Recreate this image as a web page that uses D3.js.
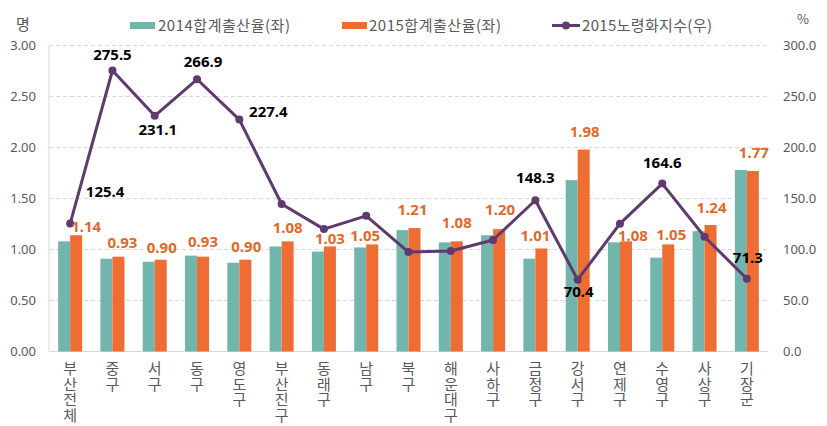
<!DOCTYPE html>
<html><head><meta charset="utf-8">
<script src="https://cdn.jsdelivr.net/npm/d3@7"></script>
<style>
html,body{margin:0;padding:0;background:#fff;}
svg{display:block;font-family:"Noto Sans CJK KR","Noto Sans",sans-serif;}
.vlab{writing-mode:vertical-rl;text-orientation:upright;}
</style></head>
<body><svg id="c" width="827" height="426"></svg>
<script>
const categories = ["부산전체","중구","서구","동구","영도구","부산진구","동래구","남구","북구","해운대구","사하구","금정구","강서구","연제구","수영구","사상구","기장군"];
const tfr2014 = [1.08,0.91,0.88,0.94,0.87,1.03,0.98,1.02,1.19,1.07,1.14,0.91,1.68,1.07,0.92,1.18,1.78];
const tfr2015 = [1.14,0.93,0.90,0.93,0.90,1.08,1.03,1.05,1.21,1.08,1.20,1.01,1.98,1.08,1.05,1.24,1.77];
const aging2015 = [125.4,275.5,231.1,266.9,227.4,144.6,120.0,133.0,97.5,98.5,109.3,148.3,70.4,125.3,164.6,112.5,71.3];
const agingLabelShown = [true,true,true,true,true,false,false,false,false,false,false,true,true,false,true,false,true];
const leftTicks = [0,0.5,1,1.5,2,2.5,3];
const rightTicks = [0,50,100,150,200,250,300];
const seriesNames = ["2014합계출산율(좌)","2015합계출산율(좌)","2015노령화지수(우)"];

const teal = "#72b5ac", orange = "#ef6d33", purple = "#5e3a6e", labelOrange = "#e0692b", gray = "#595959";
const svg = d3.select("#c");
const L = 49, R = 768, T = 45.5, B = 351.5;

const x = d3.scaleBand().domain(categories).range([L, R]).paddingInner(0).paddingOuter(0);
const yL = d3.scaleLinear().domain([0,3]).range([B, T]);
const yR = d3.scaleLinear().domain([0,300]).range([B, T]);
const bw = 12;

// grid
svg.append("g").selectAll("line").data(leftTicks.filter(d=>d>0)).join("line")
  .attr("x1", L).attr("x2", R).attr("y1", d=>yL(d)).attr("y2", d=>yL(d))
  .attr("stroke", "#d9d9d9").attr("stroke-width", 1).attr("stroke-dasharray", "4,3");
svg.append("line").attr("x1", L).attr("x2", L).attr("y1", T).attr("y2", B).attr("stroke", "#d9d9d9");
svg.append("line").attr("x1", L).attr("x2", R).attr("y1", B).attr("y2", B).attr("stroke", "#d9d9d9");

// left axis
const gl = svg.append("g").attr("transform", `translate(${L},0)`)
  .call(d3.axisLeft(yL).tickValues(leftTicks).tickFormat(d3.format(".2f")).tickSize(0).tickPadding(13));
gl.select(".domain").remove();
gl.selectAll("text").attr("fill", gray).attr("font-size", 13).attr("font-family", "'Noto Sans','Noto Sans CJK KR',sans-serif");
// right axis
const gr = svg.append("g").attr("transform", `translate(${R},0)`)
  .call(d3.axisRight(yR).tickValues(rightTicks).tickFormat(d3.format(".1f")).tickSize(0).tickPadding(15));
gr.select(".domain").remove();
gr.selectAll("text").attr("fill", gray).attr("font-size", 13).attr("font-family", "'Noto Sans','Noto Sans CJK KR',sans-serif");

svg.append("text").attr("x", 23).attr("y", 30).attr("text-anchor","middle").attr("fill", gray).attr("font-size", 15).text("명");
svg.append("text").attr("x", 803).attr("y", 24).attr("text-anchor","middle").attr("fill", gray).attr("font-size", 13).text("%");

// bars
const cx = d => x(d) + x.bandwidth()/2;
svg.append("g").selectAll("rect").data(categories).join("rect")
  .attr("x", d=>cx(d)-bw).attr("width", bw)
  .attr("y", (d,i)=>yL(tfr2014[i])).attr("height", (d,i)=>B-yL(tfr2014[i])).attr("fill", teal);
svg.append("g").selectAll("rect").data(categories).join("rect")
  .attr("x", d=>cx(d)).attr("width", bw)
  .attr("y", (d,i)=>yL(tfr2015[i])).attr("height", (d,i)=>B-yL(tfr2015[i])).attr("fill", orange);

// line
const line = d3.line().x((d,i)=>cx(categories[i])).y(d=>yR(d));
svg.append("path").datum(aging2015).attr("d", line).attr("fill","none").attr("stroke", purple).attr("stroke-width", 3).attr("stroke-linejoin","round");
svg.append("g").selectAll("circle").data(aging2015).join("circle")
  .attr("cx", (d,i)=>cx(categories[i])).attr("cy", d=>yR(d)).attr("r", 4).attr("fill", purple);

// orange labels (offsets relative to orange bar center / top)
const orangeAdj = {0:[10,-3],1:[4,-9],2:[1,-7],3:[0,-10],4:[1,-8],5:[0,-8],6:[0,-2],7:[-7,-3],8:[-2,-13],9:[0,-13],10:[1,-14],11:[-6,-7],12:[1,-13],13:[7,0],14:[3,-4],15:[1,-12],16:[1,-13]};
svg.append("g").selectAll("text").data(tfr2015).join("text")
  .attr("x", (d,i)=>cx(categories[i]) + bw/2 + orangeAdj[i][0])
  .attr("y", (d,i)=>yL(d) + orangeAdj[i][1])
  .attr("text-anchor","middle").attr("font-size", 15).attr("font-weight", "bold")
  .attr("font-family", "'Noto Sans','Noto Sans CJK KR',sans-serif")
  .attr("fill", labelOrange).text(d=>d3.format(".2f")(d));

// aging labels
const agingAdj = {0:[35,-27],1:[0,-10],2:[3,19],3:[6,-12],4:[29,-3],11:[0,-17],12:[1,17],14:[0,-16],16:[1,-16]};
svg.append("g").selectAll("text").data(aging2015.map((v,i)=>({v,i})).filter(d=>agingLabelShown[d.i])).join("text")
  .attr("x", d=>cx(categories[d.i]) + agingAdj[d.i][0])
  .attr("y", d=>yR(d.v) + agingAdj[d.i][1])
  .attr("text-anchor","middle").attr("font-size", 15).attr("font-weight", "bold")
  .attr("font-family", "'Noto Sans','Noto Sans CJK KR',sans-serif")
  .attr("fill", "#000").text(d=>d3.format(".1f")(d.v));

// category labels (vertical, stacked characters)
svg.append("g").selectAll("text").data(categories).join("text")
  .attr("class","vlab")
  .attr("x", d=>cx(d)).attr("y", 361)
  .attr("fill", gray).attr("font-size", 15).attr("letter-spacing", 0.5)
  .text(d=>d);

// legend
const lg = svg.append("g");
lg.append("rect").attr("x",130).attr("y",22).attr("width",25).attr("height",7).attr("fill",teal);
lg.append("text").attr("x",158).attr("y",31).attr("font-size",15).attr("fill",gray).attr("textLength",132).attr("lengthAdjust","spacing").text(seriesNames[0]);
lg.append("rect").attr("x",342).attr("y",22).attr("width",25).attr("height",7).attr("fill",orange);
lg.append("text").attr("x",369).attr("y",31).attr("font-size",15).attr("fill",gray).attr("textLength",132).attr("lengthAdjust","spacing").text(seriesNames[1]);
lg.append("line").attr("x1",552).attr("x2",580).attr("y1",25.5).attr("y2",25.5).attr("stroke",purple).attr("stroke-width",3);
lg.append("circle").attr("cx",566).attr("cy",25.5).attr("r",4).attr("fill",purple);
lg.append("text").attr("x",582).attr("y",31).attr("font-size",15).attr("fill",gray).attr("textLength",130).attr("lengthAdjust","spacing").text(seriesNames[2]);
</script></body></html>
